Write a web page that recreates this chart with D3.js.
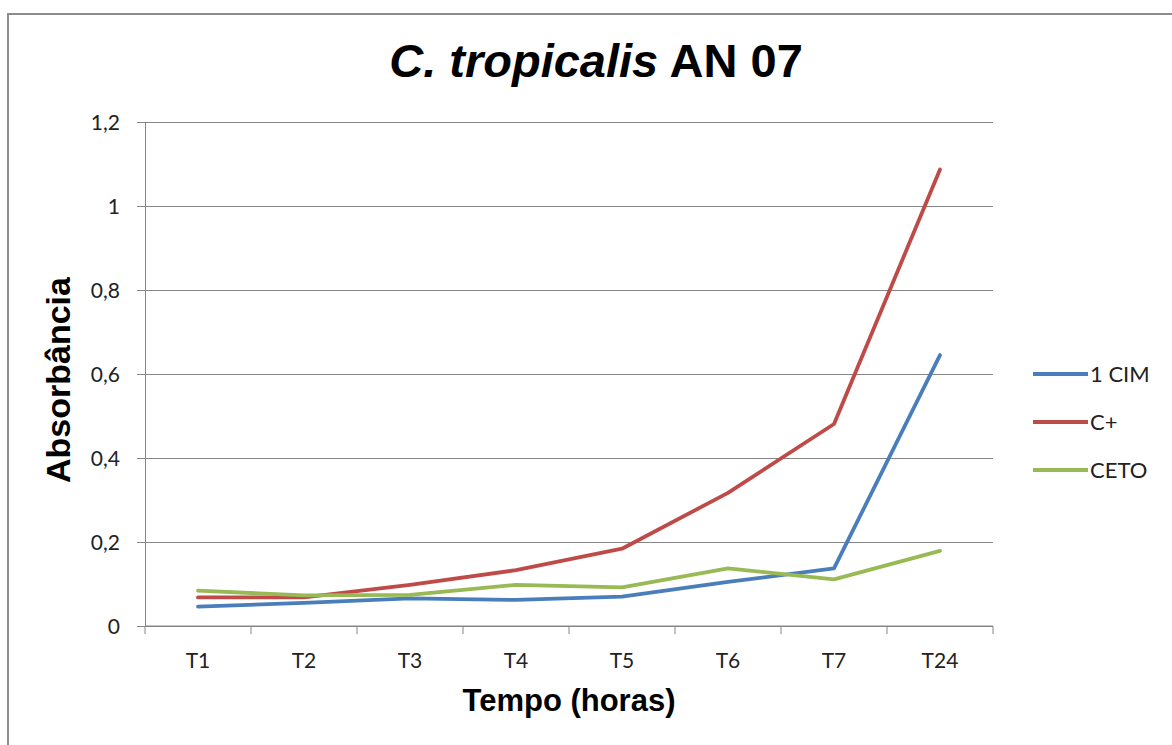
<!DOCTYPE html>
<html>
<head>
<meta charset="utf-8">
<script src="https://cdn.jsdelivr.net/npm/d3@7/dist/d3.min.js"></script>
<style>
  html, body { margin: 0; padding: 0; background: #fff; }
  svg { display: block; }
</style>
</head>
<body>
<svg id="chart" width="1172" height="745"></svg>
<script>
// Sampling times
const categories = ["T1", "T2", "T3", "T4", "T5", "T6", "T7", "T24"];

// Absorbance per treatment
const cim1 = [0.046, 0.055, 0.066, 0.062, 0.070, 0.105, 0.137, 0.645];
const cPlus = [0.068, 0.068, 0.098, 0.133, 0.184, 0.317, 0.481, 1.087];
const ceto = [0.084, 0.073, 0.074, 0.098, 0.092, 0.137, 0.111, 0.179];

const seriesNames = ["1 CIM", "C+", "CETO"];
const seriesColors = ["#4A7EBB", "#BE4B48", "#98B954"];
const yTicks = [0, 0.2, 0.4, 0.6, 0.8, 1, 1.2];

const series = [cim1, cPlus, ceto].map((values, i) => ({
  name: seriesNames[i], color: seriesColors[i], values
}));

const svg = d3.select("#chart");
const plot = { left: 145, right: 993, top: 122, bottom: 626 };
const labelFont = "Lato, 'Open Sans', 'Liberation Sans', sans-serif";

// Outer chart frame
svg.append("rect")
  .attr("x", 8).attr("y", 14)
  .attr("width", 1200).attr("height", 800)
  .attr("fill", "#fff")
  .attr("stroke", "#8c8c8c").attr("stroke-width", 2);

const x = d3.scaleBand().domain(categories).range([plot.left, plot.right]).padding(0);
const y = d3.scaleLinear().domain([0, 1.2]).range([plot.bottom, plot.top]);
const fmt = d => String(d).replace(".", ",");

// Horizontal gridlines + y axis
const yAxis = d3.axisLeft(y).tickValues(yTicks).tickFormat(fmt)
  .tickSize(-(plot.right - plot.left)).tickPadding(18);
const gy = svg.append("g").attr("transform", `translate(${plot.left},0)`).call(yAxis);
gy.select(".domain").attr("stroke", "#868686");
gy.selectAll(".tick line").attr("stroke", "#868686").attr("x1", -8);
gy.selectAll(".tick text")
  .attr("font-family", labelFont)
  .attr("font-size", 21).attr("fill", "#222").attr("x", -25).attr("dy", "0.35em");

// Category axis with ticks between bands
const gx = svg.append("g").attr("transform", `translate(0,${plot.bottom})`);
gx.append("line")
  .attr("x1", plot.left).attr("x2", plot.right)
  .attr("stroke", "#868686");
const bounds = categories.map(c => x(c)).concat([plot.right]);
gx.selectAll("line.tk").data(bounds).join("line").attr("class", "tk")
  .attr("x1", d => d).attr("x2", d => d).attr("y1", 0).attr("y2", 8)
  .attr("stroke", "#868686");
gx.selectAll("text").data(categories).join("text")
  .attr("x", d => x(d) + x.bandwidth() / 2)
  .attr("y", 42)
  .attr("text-anchor", "middle")
  .attr("font-family", labelFont)
  .attr("font-size", 21).attr("fill", "#222")
  .text(d => d);

// Series lines
const line = d3.line()
  .x((d, i) => x(categories[i]) + x.bandwidth() / 2)
  .y(d => y(d));
svg.append("g").selectAll("path").data(series).join("path")
  .attr("d", d => line(d.values))
  .attr("fill", "none")
  .attr("stroke", d => d.color)
  .attr("stroke-width", 3.8)
  .attr("stroke-linejoin", "round")
  .attr("stroke-linecap", "round");

// Title
const title = svg.append("text")
  .attr("x", 596).attr("y", 77)
  .attr("text-anchor", "middle")
  .attr("font-family", "'Liberation Sans', Arial, sans-serif")
  .attr("font-weight", "bold").attr("font-size", 47).attr("fill", "#000");
title.append("tspan").attr("font-style", "italic").text("C. tropicalis");
title.append("tspan").text(" AN 07");

// Axis titles
svg.append("text")
  .attr("x", 569).attr("y", 711)
  .attr("text-anchor", "middle")
  .attr("font-family", "'Liberation Sans', Arial, sans-serif")
  .attr("font-weight", "bold").attr("font-size", 31).attr("fill", "#000")
  .text("Tempo (horas)");
svg.append("text")
  .attr("transform", "translate(70,380) rotate(-90)")
  .attr("text-anchor", "middle")
  .attr("font-family", "'Liberation Sans', Arial, sans-serif")
  .attr("font-weight", "bold").attr("font-size", 34).attr("fill", "#000")
  .text("Absorbância");

// Legend
const legend = svg.append("g").selectAll("g").data(series).join("g")
  .attr("transform", (d, i) => `translate(1033,${374 + i * 48})`);
legend.append("line")
  .attr("x1", 0).attr("x2", 55)
  .attr("stroke", d => d.color).attr("stroke-width", 3.8);
legend.append("text")
  .attr("x", 57).attr("dy", "0.35em")
  .attr("font-family", labelFont)
  .attr("font-size", 22).attr("fill", "#222")
  .text(d => d.name);
</script>
</body>
</html>
